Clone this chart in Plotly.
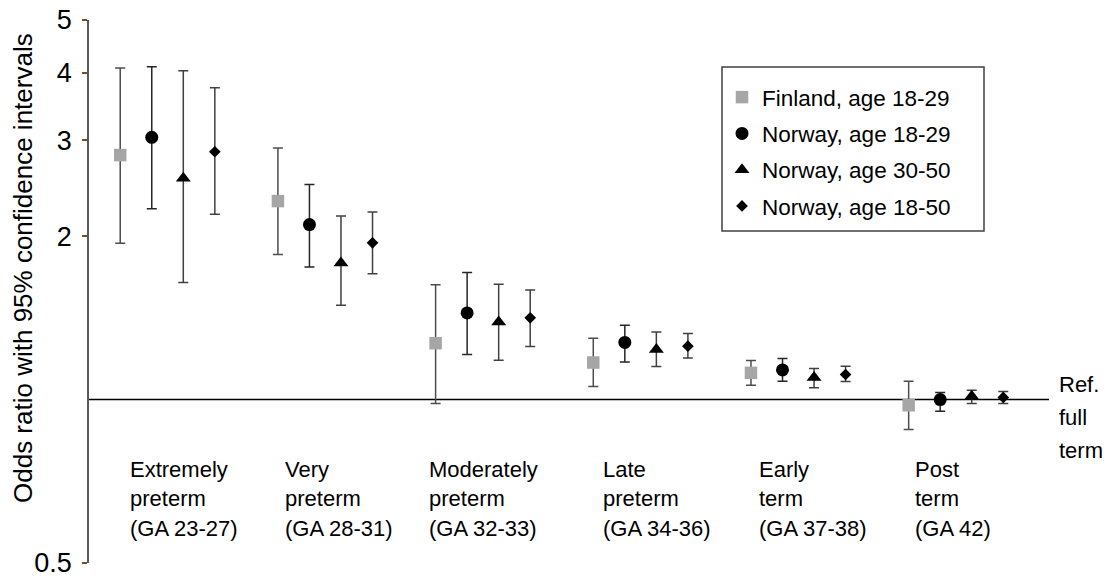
import numpy as np
import plotly.graph_objects as go

# ---- data ----
categories = [
    "Extremely<br>preterm<br>(GA 23-27)",
    "Very<br>preterm<br>(GA 28-31)",
    "Moderately<br>preterm<br>(GA 32-33)",
    "Late<br>preterm<br>(GA 34-36)",
    "Early<br>term<br>(GA 37-38)",
    "Post<br>term<br>(GA 42)",
]

series_names = ["Finland, age 18-29", "Norway, age 18-29", "Norway, age 30-50", "Norway, age 18-50"]

finland_or = [2.82, 2.32, 1.27, 1.17, 1.12, 0.976]
finland_lo = [1.94, 1.85, 0.983, 1.057, 1.062, 0.881]
finland_hi = [4.08, 2.905, 1.627, 1.297, 1.18, 1.081]

nor1829_or = [3.04, 2.10, 1.444, 1.274, 1.134, 1.0]
nor1829_lo = [2.245, 1.754, 1.21, 1.172, 1.081, 0.952]
nor1829_hi = [4.10, 2.49, 1.714, 1.371, 1.19, 1.03]

nor3050_or = [2.555, 1.784, 1.39, 1.236, 1.098, 1.014]
nor3050_lo = [1.643, 1.492, 1.181, 1.151, 1.051, 0.983]
nor3050_hi = [4.03, 2.177, 1.631, 1.332, 1.141, 1.04]

nor1850_or = [2.86, 1.944, 1.414, 1.254, 1.112, 1.009]
nor1850_lo = [2.195, 1.704, 1.252, 1.192, 1.079, 0.983]
nor1850_hi = [3.75, 2.214, 1.592, 1.323, 1.152, 1.035]

y_tickvals = [0.5, 2, 3, 4, 5]
y_ticktext = ["0.5", "2", "3", "4", "5"]
y_min, y_max = 0.5, 5
ref_value = 1
ref_label = "Ref.<br>full<br>term"
y_title = "Odds ratio with 95% confidence intervals"

# ---- styling ----
FONT = "Liberation Sans, Arial, sans-serif"
FS_LABEL = 22
FS_LEGEND = 22.5
FS_AXIS = 27
symbols = ["square", "circle", "triangle-up", "diamond"]
colors = ["#a6a6a6", "#000000", "#000000", "#000000"]
sizes = [12.5, 13, 13, 9]
bar_colors = ["#4d4d4d", "#262626", "#404040", "#404040"]
offsets = [-0.3, -0.1, 0.1, 0.3]
label_x_shift = [-0.25, -0.265, -0.355, -0.25, -0.26, -0.27]

PLOT_L, PLOT_W, PLOT_B, PLOT_H = 89, 960, 563, 543
def px_x(p): return (p - PLOT_L) / PLOT_W
def px_y(p): return (PLOT_B - p) / PLOT_H

all_series = [
    (finland_or, finland_lo, finland_hi),
    (nor1829_or, nor1829_lo, nor1829_hi),
    (nor3050_or, nor3050_lo, nor3050_hi),
    (nor1850_or, nor1850_lo, nor1850_hi),
]

fig = go.Figure()
idx = np.arange(len(categories))
for k, (orv, lo, hi) in enumerate(all_series):
    orv = np.array(orv); lo = np.array(lo); hi = np.array(hi)
    fig.add_trace(go.Scatter(
        x=idx + offsets[k], y=orv, mode="markers", name=series_names[k],
        legendgroup=f"g{k}",
        marker=dict(symbol=symbols[k], size=sizes[k], color=colors[k], line=dict(width=0)),
        error_y=dict(type="data", symmetric=False, array=hi - orv, arrayminus=orv - lo,
                     color=bar_colors[k], thickness=1.5, width=5),
    ))

# reference line at OR = 1, placed in the y-axis domain fraction
ly0, ly1 = np.log10(y_min), np.log10(y_max)
ref_frac = (np.log10(ref_value) - ly0) / (ly1 - ly0)
fig.add_shape(type="line", xref="paper", x0=0, x1=1, yref="y domain",
              y0=ref_frac, y1=ref_frac,
              line=dict(color="#000000", width=1.6), layer="below")
# legend frame
fig.add_shape(type="rect", xref="paper", yref="paper",
              x0=px_x(722), x1=px_x(984), y0=px_y(231), y1=px_y(67),
              line=dict(color="#404040", width=1.5), fillcolor="rgba(0,0,0,0)", layer="below")

annotations = []
top_px, line_px = 469, 29.5
for i, cat in enumerate(categories):
    for j, line in enumerate(cat.split("<br>")):
        annotations.append(dict(
            x=i + label_x_shift[i], xref="x", xanchor="left",
            y=px_y(top_px + j * line_px), yref="paper", yanchor="middle",
            text=line, showarrow=False, font=dict(family=FONT, size=FS_LABEL, color="#000")))
for j, line in enumerate(ref_label.split("<br>")):
    annotations.append(dict(
        x=px_x(1057), xref="paper", xanchor="left",
        y=px_y(384 + j * 33), yref="paper", yanchor="middle",
        text=line, showarrow=False, font=dict(family=FONT, size=FS_LABEL, color="#000")))
annotations.append(dict(
    x=px_x(23), xref="paper", xanchor="center",
    y=px_y(268), yref="paper", yanchor="middle",
    text=y_title, textangle=-90, showarrow=False,
    font=dict(family=FONT, size=FS_AXIS - 1, color="#000")))

yr = [ly0, ly1]
fig.update_layout(
    width=1111, height=583,
    margin=dict(l=89, r=62, t=20, b=20),
    paper_bgcolor="white", plot_bgcolor="white",
    font=dict(family=FONT, size=FS_LABEL, color="#000"),
    showlegend=True,
    legend=dict(x=px_x(722), y=px_y(76), xanchor="left", yanchor="top",
                bgcolor="rgba(0,0,0,0)", borderwidth=0,
                font=dict(family=FONT, size=FS_LEGEND, color="#000"),
                tracegroupgap=4, traceorder="grouped"),
    xaxis=dict(visible=False, range=[-0.498, 5.59]),
    yaxis=dict(type="log", range=yr, tickvals=y_tickvals, ticktext=y_ticktext,
               showline=True, linecolor="#595959", linewidth=1.5,
               ticks="outside", ticklen=5, tickwidth=2, tickcolor="#7b4a26",
               showgrid=False, zeroline=False, ticklabelstandoff=5, automargin=False,
               tickfont=dict(family=FONT, size=FS_AXIS, color="#000")),
    yaxis2=dict(type="log", range=yr, overlaying="y", side="left", anchor="x",
                tickvals=y_tickvals, showticklabels=False, showline=False,
                ticks="inside", ticklen=5, tickwidth=2, tickcolor="#7b4a26",
                showgrid=False, zeroline=False, automargin=False),
    annotations=annotations,
)

fig.write_html("out.html", config={"displayModeBar": False},
               post_script="document.body.style.margin='0';")
